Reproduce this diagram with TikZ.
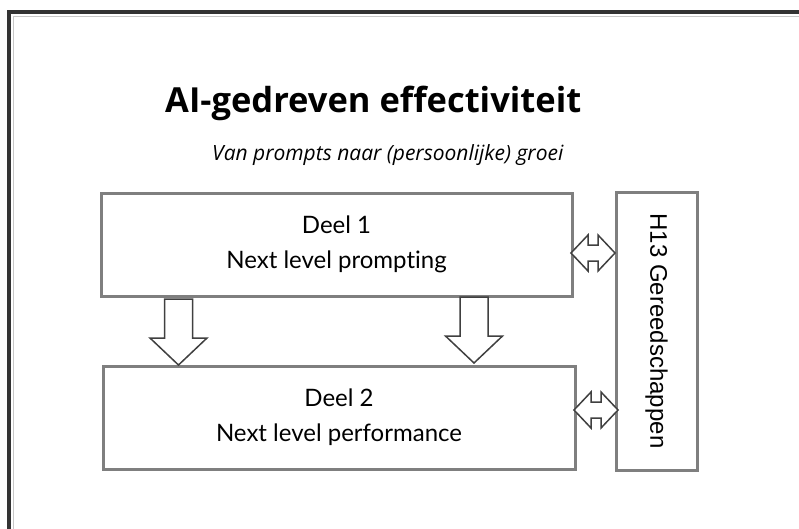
\documentclass[tikz,border=0pt]{standalone}
\usepackage{fontspec}
\setmainfont{Open Sans}[Ligatures=NoCommon]
\newfontfamily\boxfont{Lato}[Ligatures=NoCommon]
\newfontfamily\arialfont{Liberation Sans}
\definecolor{framedark}{HTML}{333333}
\definecolor{framelight}{HTML}{C8C8C8}
\definecolor{boxgrey}{HTML}{7F7F7F}
\definecolor{arrowgrey}{HTML}{404040}
\tikzset{
  partbox/.style={draw=boxgrey, line width=3pt, fill=white, align=center,
    font=\boxfont\fontsize{24}{35}\selectfont, inner sep=0pt},
  blockarrow/.style={draw=arrowgrey, line width=1.5pt, fill=white, line join=miter},
  downarr/.pic={\path[blockarrow] (0,0) -- (28.5,-27) -- (14,-27) -- (14,-66) -- (-14,-66) -- (-14,-27) -- (-28.5,-27) -- cycle;},
  duoarr/.pic={\path[blockarrow] (-22,0) -- (-5,-18) -- (-5,-8) -- (5,-8) -- (5,-18) -- (22,0) -- (5,18) -- (5,8) -- (-5,8) -- (-5,18) -- cycle;}
}
\begin{document}
\begin{tikzpicture}[x=1pt,y=-1pt]
\useasboundingbox (0,0) rectangle (799,528);
\fill[white] (0,0) rectangle (799,528);
% outer frame
\draw[framedark, line width=4pt] (9,540) -- (9,12) -- (810,12);
\draw[framelight, line width=1pt] (13,540) -- (13,16) -- (810,16);
% titles
\node[anchor=base west, inner sep=0pt, font=\bfseries\fontsize{34.5}{40}\selectfont] (title) at (165,112) {AI-gedreven effectiviteit};
\node[anchor=base west, inner sep=0pt, font=\itshape\fontsize{21}{26}\selectfont] (subtitle) at (212,160) {Van prompts naar (persoonlijke) groei};
% boxes
\node[partbox, minimum width=471pt, minimum height=103pt] (d1) at (336.5,244.5) {Deel 1\\Next level prompting};
\node[partbox, minimum width=472pt, minimum height=103pt] (d2) at (339,417.5) {Deel 2\\Next level performance};
\node[partbox, minimum width=278pt, minimum height=81pt, font=\arialfont\fontsize{24}{28}\selectfont, rotate=-90] (h13) at (656.5,331) {H13 Gereedschappen};
% block arrows
\pic at (178.5,365) {downarr};
\pic at (474,363) {downarr};
\pic at (593,253) {duoarr};
\pic at (596,410) {duoarr};
\end{tikzpicture}
\end{document}
